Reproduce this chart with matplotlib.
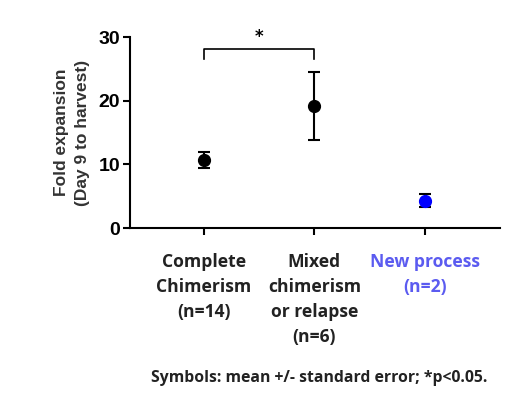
import matplotlib
matplotlib.use("Agg")
import matplotlib.pyplot as plt

categories = ["Complete\nChimerism\n(n=14)", "Mixed\nchimerism\nor relapse\n(n=6)", "New process\n(n=2)"]
means = [10.7, 19.2, 4.3]
sem_upper = [1.2, 5.3, 1.1]
sem_lower = [1.2, 5.4, 1.0]
point_colors = ["black", "black", "#0000ff"]
label_colors = ["#222222", "#222222", "#5b5bf0"]
yticks = [0, 10, 20, 30]
bracket_y = 28.1
bracket_drop = 1.6

fig = plt.figure(figsize=(5.24, 3.98), dpi=100)
ax = fig.add_axes([0.248, 0.427, 0.706, 0.48])

for i, (m, lo, hi, c) in enumerate(zip(means, sem_lower, sem_upper, point_colors)):
    ax.errorbar([i], [m], yerr=[[lo], [hi]], fmt="o", color=c, ecolor="black",
                markersize=8.5, capsize=4.5, elinewidth=1.5, capthick=1.5, zorder=3)

ax.set_xlim(-0.67, 2.68)
ax.set_ylim(0, 30)
ax.set_yticks(yticks)
ax.set_yticklabels([str(t) for t in yticks], fontsize=14, fontweight="bold",
                   family="Liberation Sans")
ax.set_xticks(range(len(categories)))
ax.set_xticklabels([])
for s in ["top", "right"]:
    ax.spines[s].set_visible(False)
for s in ["left", "bottom"]:
    ax.spines[s].set_linewidth(1.5)
ax.tick_params(axis="both", width=1.5, length=5, pad=2)

for i, (lab, col) in enumerate(zip(categories, label_colors)):
    ax.text(i, -3.9, lab, ha="center", va="top", fontsize=12.6, fontweight="bold",
            color=col, family="Open Sans", linespacing=1.5,
            transform=ax.transData)

ax.set_ylabel("Fold expansion\n(Day 9 to harvest)", fontsize=12.5, fontweight="bold",
              color="#333333", family="Liberation Sans", labelpad=6, linespacing=1.5)

ax.plot([0, 0, 1, 1], [bracket_y - bracket_drop, bracket_y, bracket_y, bracket_y - bracket_drop],
        color="black", lw=1.2, clip_on=False)
ax.text(0.5, bracket_y + 0.5, "*", ha="center", va="bottom", fontsize=12,
        fontweight="bold", color="black")

fig.text(0.61, 0.05, "Symbols: mean +/- standard error; *p<0.05.", ha="center",
         va="center", fontsize=11.3, fontweight="bold", color="#222222", family="Open Sans")

fig.savefig("out.png", dpi=100)
